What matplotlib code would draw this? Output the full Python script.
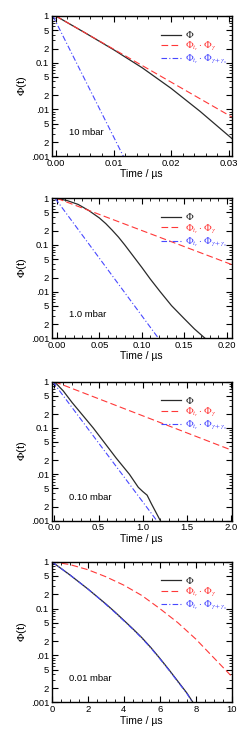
import numpy as np
import matplotlib
matplotlib.use("Agg")
import matplotlib.pyplot as plt
from matplotlib.ticker import FixedLocator, FixedFormatter, AutoMinorLocator

plt.rcParams['font.family'] = ['Liberation Sans', 'DejaVu Sans']
plt.rcParams['mathtext.fontset'] = 'stix'

# ---- data (log10 of Phi) ----
# 10 mbar
t_10_black = [0.0, 0.005, 0.01, 0.015, 0.02, 0.025, 0.0305]
log_10_black = [0.0, -0.355, -0.72, -1.11, -1.55, -2.04, -2.62]
t_10_red = [0.0, 0.0305]
log_10_red = [0.0, -2.16]
t_10_blue = [-0.0005, 0.0117]
log_10_blue = [0.0, -3.0]

# 1.0 mbar
t_1_black = [0.0, 0.0125, 0.025, 0.0375, 0.05, 0.0575, 0.065, 0.0725, 0.08, 0.09,
             0.10, 0.11, 0.1216, 0.135, 0.15, 0.162, 0.1745]
log_1_black = [0.0, -0.05, -0.13, -0.26, -0.42, -0.54, -0.68, -0.83, -1.0, -1.24,
               -1.48, -1.73, -2.0, -2.3, -2.58, -2.8, -3.0]
t_1_red = [0.0, 0.206]
log_1_red = [0.0, -1.42]
t_1_blue = [-0.002, 0.1196]
log_1_blue = [0.0, -3.0]

# 0.10 mbar
t_01_black = [0.0, 0.1, 0.2, 0.44, 0.7, 0.85, 0.95, 1.0, 1.05, 1.1, 1.15, 1.2]
log_01_black = [0.0, -0.2, -0.45, -1.0, -1.65, -2.0, -2.28, -2.37, -2.45, -2.64, -2.82, -3.0]
t_01_red = [0.0, 2.01]
log_01_red = [0.0, -1.48]
t_01_blue = [-0.02, 1.16]
log_01_blue = [0.0, -3.0]

# 0.01 mbar
t_001_black = [0.0, 0.5, 1, 1.5, 2, 2.5, 3, 3.5, 4, 4.5, 5, 5.5, 6, 6.5, 7, 7.5, 7.84]
log_001_black = [0.0, -0.14, -0.28, -0.43, -0.58, -0.74, -0.9, -1.07, -1.25, -1.43,
                 -1.62, -1.83, -2.06, -2.3, -2.55, -2.8, -3.0]
t_001_blue = [0.0, 0.5, 1, 1.5, 2, 2.5, 3, 3.5, 4, 4.5, 5, 5.5, 6, 6.5, 7, 7.5, 7.82]
log_001_blue = [0.0, -0.14, -0.28, -0.43, -0.58, -0.74, -0.91, -1.08, -1.26, -1.44,
                -1.63, -1.84, -2.07, -2.31, -2.56, -2.81, -3.0]
t_001_red = [0, 1, 2, 3, 4, 5, 6, 7, 8, 9, 10]
log_001_red = [0.0, -0.06, -0.17, -0.32, -0.5, -0.72, -1.0, -1.3, -1.65, -2.05, -2.45]

labels_p = ['10 mbar', '1.0 mbar', '0.10 mbar', '0.01 mbar']
xlims = [(-0.0007, 0.0305), (-0.006, 0.206), (-0.03, 2.01), (0, 10)]
xticks = [[0.0, 0.01, 0.02, 0.03], [0.0, 0.05, 0.10, 0.15, 0.20],
          [0.0, 0.5, 1.0, 1.5, 2.0], [0, 2, 4, 6, 8, 10]]
xticklabels = [['0.00', '0.01', '0.02', '0.03'], ['0.00', '0.05', '0.10', '0.15', '0.20'],
               ['0.0', '0.5', '1.0', '1.5', '2.0'], ['0', '2', '4', '6', '8', '10']]
yticks = [1, 0.5, 0.2, 0.1, 0.05, 0.02, 0.01, 0.005, 0.002, 0.001]
yticklabels = ['1', '5', '2', '0.1', '5', '2', '.01', '5', '2', '.001']

panels = [
    (t_10_black, log_10_black, t_10_red, log_10_red, t_10_blue, log_10_blue),
    (t_1_black, log_1_black, t_1_red, log_1_red, t_1_blue, log_1_blue),
    (t_01_black, log_01_black, t_01_red, log_01_red, t_01_blue, log_01_blue),
    (t_001_black, log_001_black, t_001_red, log_001_red, t_001_blue, log_001_blue),
]

red = '#ff3838'
blue = '#4848ff'

fig = plt.figure(figsize=(2.49, 7.44), dpi=100)
boxes = [(0.208, 0.790, 0.723, 0.1885), (0.208, 0.5453, 0.723, 0.1881),
         (0.208, 0.3002, 0.723, 0.1868), (0.208, 0.0560, 0.723, 0.1890)]

for i, (tb, lb, tr, lr, tbl, lbl) in enumerate(panels):
    ax = fig.add_axes(boxes[i])
    ax.semilogy(tb, 10 ** np.array(lb), color='#2a2a2a', lw=0.9, label=r'$\Phi$')
    ax.semilogy(tr, 10 ** np.array(lr), color=red, lw=0.8, dashes=(6, 3),
                label=r'$\Phi_{t_r}\cdot\Phi_{\gamma}$')
    ax.semilogy(tbl, 10 ** np.array(lbl), color=blue, lw=0.8, dashes=(5, 2, 1, 2),
                label=r'$\Phi_{t_r}\cdot\Phi_{\gamma+\gamma_s}$')
    ax.set_xlim(*xlims[i])
    ax.set_ylim(0.001, 1)
    ax.xaxis.set_major_locator(FixedLocator(xticks[i]))
    ax.xaxis.set_major_formatter(FixedFormatter(xticklabels[i]))
    ax.xaxis.set_minor_locator(AutoMinorLocator(4 if i == 3 else 5))
    ax.yaxis.set_major_locator(FixedLocator(yticks))
    ax.yaxis.set_major_formatter(FixedFormatter(yticklabels))
    minors = [m * 10.0 ** e for e in (-3, -2, -1) for m in range(1, 10)]
    ax.yaxis.set_minor_locator(FixedLocator(minors))
    ax.yaxis.set_minor_formatter(FixedFormatter([''] * len(minors)))
    ax.tick_params(which='both', direction='in', top=True, right=True, labelsize=6.8, pad=2)
    ax.tick_params(which='major', length=4, width=0.8)
    ax.tick_params(which='minor', length=2, width=0.6)
    for s in ax.spines.values():
        s.set_linewidth(1.0)
    ax.set_xlabel('Time / µs', fontsize=7.5, labelpad=1)
    ax.set_ylabel(r'$\Phi$(t)', fontsize=8, labelpad=1)
    ax.text(0.095, 0.15, labels_p[i], transform=ax.transAxes, fontsize=6.8)
    leg = ax.legend(loc='upper right', bbox_to_anchor=(1.01, 0.95), frameon=False,
                    fontsize=7.2, handlelength=2.0, handletextpad=0.4, labelspacing=0.0,
                    borderaxespad=0.2)
    for txt, c in zip(leg.get_texts(), ['#222222', red, blue]):
        txt.set_color(c)

fig.savefig('out.png', dpi=100)
